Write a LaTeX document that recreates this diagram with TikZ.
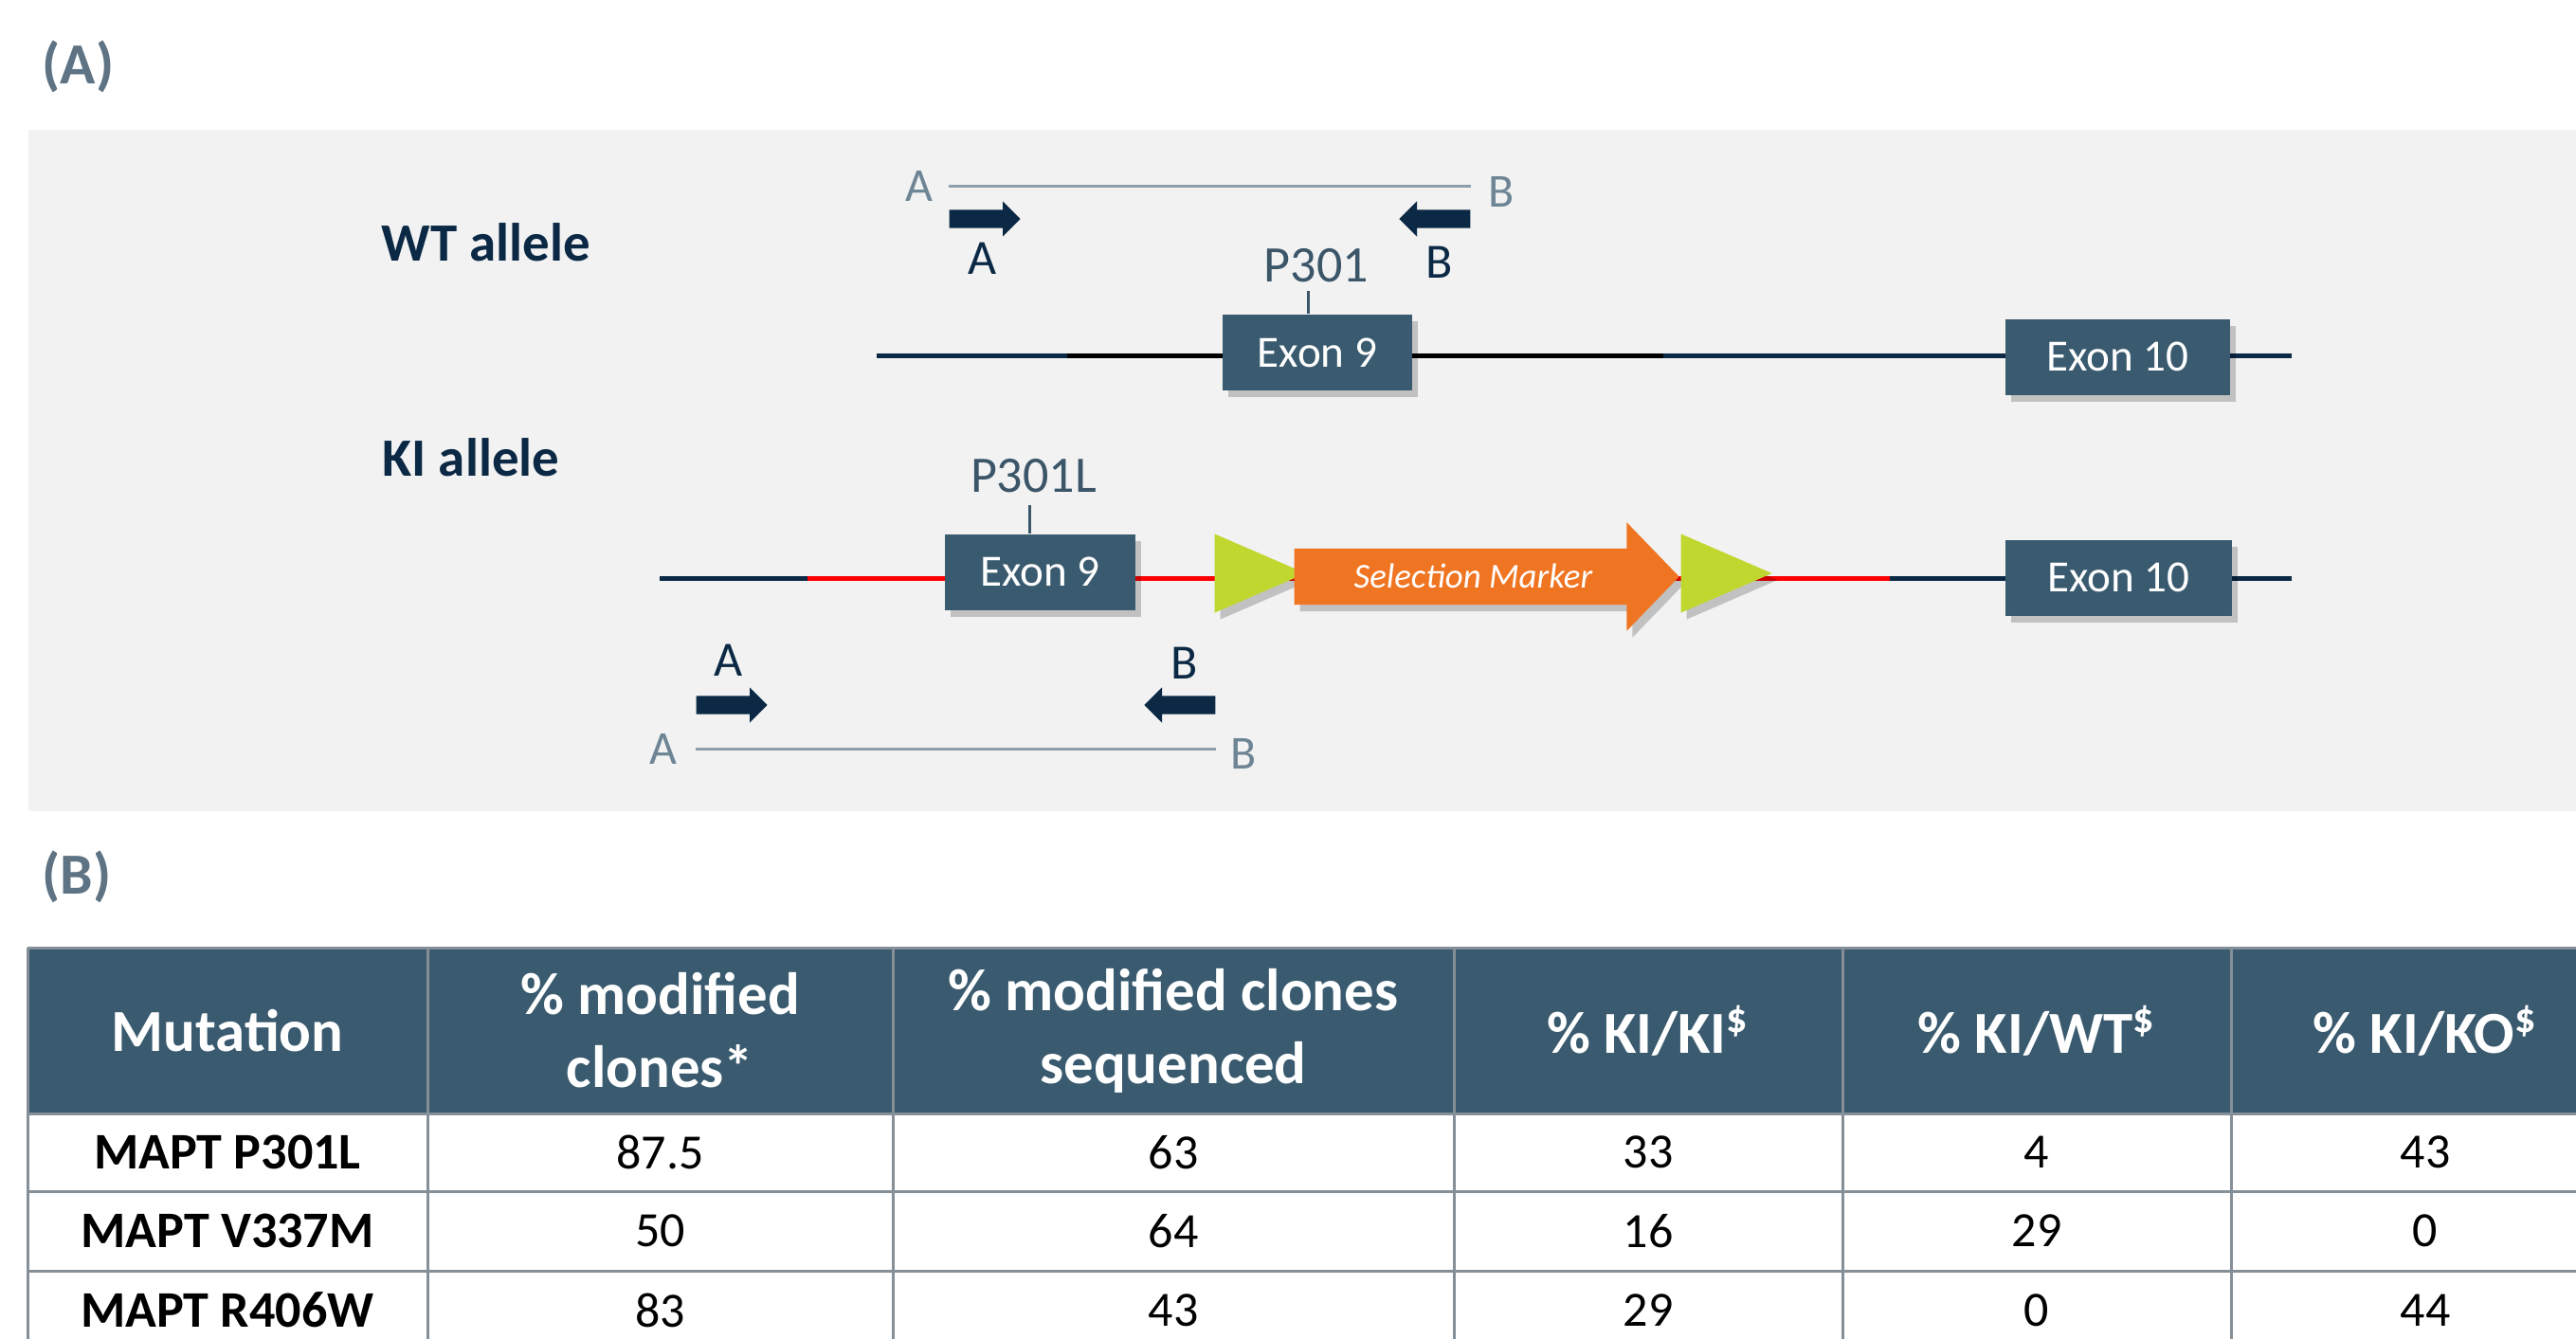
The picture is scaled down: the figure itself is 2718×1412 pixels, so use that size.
\documentclass[tikz,border=0pt]{standalone}
\usepackage{fontspec}
\setmainfont{Carlito}
\usetikzlibrary{shapes.geometric,shapes.arrows,shadows,positioning}

\definecolor{panelbg}{HTML}{F2F2F2}
\definecolor{slate}{HTML}{3A5B6F}
\definecolor{navy}{HTML}{0B2945}
\definecolor{labgray}{HTML}{5E7383}
\definecolor{primgray}{HTML}{6D8595}
\definecolor{prodgray}{HTML}{8D9FAC}
\definecolor{mutcol}{HTML}{3C5669}
\definecolor{dnared}{HTML}{FF0000}
\definecolor{loxgreen}{HTML}{C0D72F}
\definecolor{markorange}{HTML}{F07522}
\definecolor{gridgray}{HTML}{858F98}

\begin{document}
\begin{tikzpicture}[x=0.1mm,y=-0.1mm,every node/.style={inner sep=0pt}]
    \tikzset{shadowed/.style={drop shadow={shadow xshift=0.6mm,shadow yshift=-0.7mm,opacity=0.2,fill=black}},
      plabel/.style={text=labgray,font=\fontsize{17.5}{20}\selectfont\bfseries},
      allele/.style={text=navy,font=\fontsize{16.2}{19}\selectfont\bfseries},
      exon/.style={fill=slate,text=white,minimum height=8mm,font=\fontsize{13.4}{16}\selectfont,shadowed},
      mut/.style={text=mutcol,font=\fontsize{15.4}{18}\selectfont},
      tick/.style={draw=mutcol,line width=0.3mm},
      navyline/.style={draw=navy,line width=0.5mm},
      blackline/.style={draw=black,line width=0.5mm},
      redline/.style={draw=dnared,line width=0.5mm},
      primer/.style={single arrow,fill=navy,minimum height=7.5mm,inner xsep=0pt,inner ysep=0.9mm,single arrow head extend=0.9mm,single arrow tip angle=90},
      pletter/.style={text=navy,font=\fontsize{14.8}{17}\selectfont},
      gletter/.style={text=primgray,font=\fontsize{14.2}{17}\selectfont},
      prodline/.style={draw=prodgray,line width=0.3mm},
      loxp/.style={isosceles triangle,isosceles triangle stretches,fill=loxgreen,minimum height=9.6mm,minimum width=8.3mm,shadowed},
      marker/.style={single arrow,fill=markorange,minimum height=40.6mm,text height=2.6mm,text depth=0.2mm,inner ysep=1.5mm,single arrow head extend=2.75mm,single arrow tip angle=92,text=white,font=\fontsize{10.5}{12}\selectfont\itshape,shadowed},
      grid/.style={draw=gridgray,line width=0.3mm},
      hdr/.style={text=white,align=center,font=\fontsize{17.9}{21.9}\selectfont\bfseries},
      rowlab/.style={text=black,font=\fontsize{15.4}{18}\selectfont\bfseries},
      cell/.style={text=black,font=\fontsize{14.8}{17}\selectfont}}
    \useasboundingbox (0,0) rectangle (2718,1412);
    \clip (0,0) rectangle (2718,1412);

    % panel A
    \fill[panelbg] (30,137) rectangle (2718,856);
    \node[plabel,anchor=west] (labA) at (44,70) {(A)};
    \node[allele,anchor=base west] (wtLab) at (402,275) {WT allele};
    \node[allele,anchor=base west] (kiLab) at (403,502) {KI allele};

    % WT allele
    \coordinate (wL) at (925,375);
    \coordinate (wB1) at (1126,375);
    \coordinate (wB2) at (1755,375);
    \coordinate (wR) at (2418,375);
    \path[navyline] (wL) -- (wB1);
    \path[blackline] (wB1) -- (wB2);
    \path[navyline] (wB2) -- (wR);
    \node[exon,minimum width=20mm] (wE9) at (1390,372) {Exon 9};
    \node[exon,minimum width=23.7mm] (wE10) at (2234.5,376.5) {Exon 10};
    \node[mut] (wMut) at (1389,280) {P301};
    \coordinate (wTick) at (1380,307);
    \draw[tick] (wTick) -- (wTick |- wE9.north);
    \node[primer,anchor=tail] (pAw) at (1001,231) {};
    \node[primer,anchor=tail,shape border rotate=180] (pBw) at (1552,231) {};
    \node[pletter] (lAw) at (1037,272.5) {A};
    \node[pletter] (lBw) at (1518.5,276.5) {B};
    \node[gletter] (gAw) at (970,196) {A};
    \node[gletter] (gBw) at (1584,202) {B};
    \path[prodline] (pAw.tail |- gAw) -- (pBw.tail |- gAw);

    % KI allele
    \coordinate (kL) at (696,610);
    \coordinate (kB1) at (852,610);
    \coordinate (kB2) at (1994,610);
    \coordinate (kR) at (2418,610);
    \path[navyline] (kL) -- (kB1);
    \path[redline] (kB1) -- (kB2);
    \path[navyline] (kB2) -- (kR);
    \node[exon,minimum width=20.1mm] (kE9) at (1097.5,603.5) {Exon 9};
    \node[exon,minimum width=23.9mm] (kE10) at (2235.5,609.5) {Exon 10};
    \node[loxp,anchor=west] (lox1) at (1281,605) {};
    \node[marker,anchor=tail] (selM) at (1365,608.5) {Selection Marker};
    \node[loxp,anchor=west] (lox2) at (1773,605) {};
    \node[mut] (kMut) at (1090.5,502.5) {P301L};
    \coordinate (kTick) at (1086,533);
    \draw[tick] (kTick) -- (kTick |- kE9.north);
    \node[primer,anchor=tail] (pAk) at (734,744) {};
    \node[primer,anchor=tail,shape border rotate=180] (pBk) at (1283,744) {};
    \node[pletter] (lAk) at (768.5,696.5) {A};
    \node[pletter] (lBk) at (1250,699.5) {B};
    \node[gletter] (gAk) at (699.5,790) {A};
    \node[gletter] (gBk) at (1312,795) {B};
    \path[prodline] (pAk.tail |- gAk) -- (pBk.tail |- gAk);

    % panel B, table
    \node[plabel,anchor=west] (labB) at (44,925) {(B)};
    \fill[slate] (29,1000) rectangle (2764,1175);
    \path[grid] (29,1000) -- (2764,1000) (29,1175) -- (2764,1175)
      (29,1257) -- (2764,1257) (29,1341) -- (2764,1341)
      (29,1000) -- (29,1424) (451,1000) -- (451,1424) (942,1000) -- (942,1424)
      (1534,1000) -- (1534,1424) (1944,1000) -- (1944,1424) (2354,1000) -- (2354,1424);
    \node[hdr] (hMut) at (240,1087.5) {Mutation};
    \node[hdr] (hMod) at (696.5,1087.5) {\% modified\\clones*};
    \node[hdr] (hSeq) at (1238,1087.5) {\% modified clones\\sequenced};
    \node[hdr] (hKiKi) at (1739,1087.5) {\% KI/KI\textsuperscript{\$}};
    \node[hdr] (hKiWt) at (2149,1087.5) {\% KI/WT\textsuperscript{\$}};
    \node[hdr] (hKiKo) at (2559,1087.5) {\% KI/KO\textsuperscript{\$}};

    \node[rowlab] (rP) at (240,1216) {MAPT P301L};
    \node[cell] (rPa) at (696.5,1216) {87.5};
    \node[cell] (rPb) at (1238,1216) {63};
    \node[cell] (rPc) at (1739,1216) {33};
    \node[cell] (rPd) at (2149,1216) {4};
    \node[cell] (rPe) at (2559,1216) {43};

    \node[rowlab] (rV) at (240,1299) {MAPT V337M};
    \node[cell] (rVa) at (696.5,1299) {50};
    \node[cell] (rVb) at (1238,1299) {64};
    \node[cell] (rVc) at (1739,1299) {16};
    \node[cell] (rVd) at (2149,1299) {29};
    \node[cell] (rVe) at (2559,1299) {0};

    \node[rowlab] (rR) at (240,1382.5) {MAPT R406W};
    \node[cell] (rRa) at (696.5,1382.5) {83};
    \node[cell] (rRb) at (1238,1382.5) {43};
    \node[cell] (rRc) at (1739,1382.5) {29};
    \node[cell] (rRd) at (2149,1382.5) {0};
    \node[cell] (rRe) at (2559,1382.5) {44};
\end{tikzpicture}
\end{document}
